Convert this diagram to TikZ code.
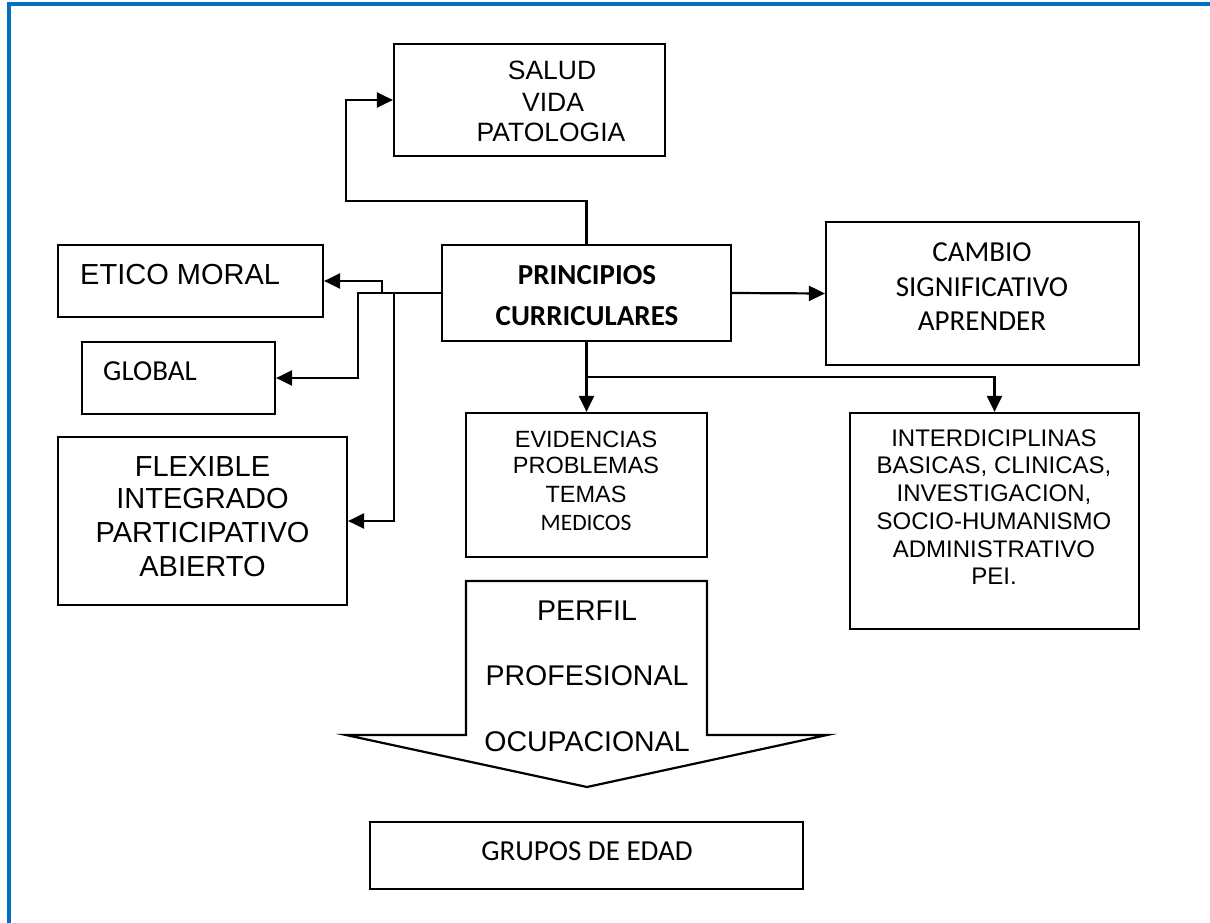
\documentclass[tikz,border=0pt]{standalone}
\usepackage{fontspec}
\setmainfont{Liberation Sans}
\newfontfamily\arialf{Liberation Sans}
\newfontfamily\calibf{Carlito}
\usetikzlibrary{arrows.meta}
\definecolor{frameblue}{RGB}{0,112,192}
\begin{document}
\begin{tikzpicture}[x=1pt,y=-1pt,
  box/.style={draw=black, line width=2.2pt, rectangle, inner sep=0pt},
  arr/.style={draw=black, line width=2.2pt, -{Triangle[length=16pt,width=15pt]}},
  conn/.style={draw=black, line width=2.2pt},
  lbl/.style={anchor=base, inner sep=0pt},
  lblw/.style={anchor=base west, inner sep=0pt}]
\useasboundingbox (0,0) rectangle (1210,923);
\fill[white] (0,0) rectangle (1210,923);
% frame
\draw[frameblue, line width=3.2pt] (9,923) -- (9,4) -- (1210,4);

% boxes
\node[box, minimum width=271pt, minimum height=112pt] (salud) at (529.5,100) {};
\node[box, minimum width=289pt, minimum height=96pt] (princ) at (586.5,293) {};
\node[box, minimum width=265pt, minimum height=72pt] (etico) at (190.5,281) {};
\node[box, minimum width=193pt, minimum height=72pt] (global) at (178.5,378) {};
\node[box, minimum width=289pt, minimum height=168pt] (flex) at (202.5,521) {};
\node[box, minimum width=313pt, minimum height=143pt] (cambio) at (982.5,293.5) {};
\node[box, minimum width=241pt, minimum height=144pt] (evid) at (586.5,485) {};
\node[box, minimum width=289pt, minimum height=216pt] (inter) at (994.5,521) {};
\node[box, minimum width=433pt, minimum height=67pt] (grupos) at (586.5,855.5) {};

% big arrow
\draw[conn, line join=miter] (466,581) -- (707,581) -- (707,735) -- (827,735) -- (587,787) -- (346,735) -- (466,735) -- cycle;

% texts
\node[lbl, font=\arialf\fontsize{26.5}{30}\selectfont] (t1) at (552,80) {SALUD};
\node[lbl, font=\arialf\fontsize{26.5}{30}\selectfont] (t2) at (553,112) {VIDA};
\node[lbl, font=\arialf\fontsize{26.5}{30}\selectfont] (t3) at (551,142) {PATOLOGIA};

\node[lbl, font=\calibf\bfseries\fontsize{29}{35}\selectfont] (t4) at (587,284) {PRINCIPIOS};
\node[lbl, font=\calibf\bfseries\fontsize{29}{35}\selectfont] (t5) at (587,325) {CURRICULARES};

\node[lblw, font=\arialf\fontsize{29}{33}\selectfont] (t6) at (80,284) {ETICO MORAL};
\node[lblw, font=\calibf\fontsize{29}{33}\selectfont] (t7) at (103,380) {GLOBAL};

\node[lbl, font=\arialf\fontsize{29}{33}\selectfont] (t8) at (202.5,476) {FLEXIBLE};
\node[lbl, font=\arialf\fontsize{29}{33}\selectfont] (t9) at (202.5,508) {INTEGRADO};
\node[lbl, font=\arialf\fontsize{29}{33}\selectfont] (t10) at (202.5,542) {PARTICIPATIVO};
\node[lbl, font=\arialf\fontsize{29}{33}\selectfont] (t11) at (202.5,576) {ABIERTO};

\node[lbl, font=\calibf\fontsize{29}{35}\selectfont] (t12) at (982,261) {CAMBIO};
\node[lbl, font=\calibf\fontsize{29}{35}\selectfont] (t13) at (982,296) {SIGNIFICATIVO};
\node[lbl, font=\calibf\fontsize{29}{35}\selectfont] (t14) at (982,330) {APRENDER};

\node[lbl, font=\arialf\fontsize{23.5}{27}\selectfont] (t15) at (586,447) {EVIDENCIAS};
\node[lbl, font=\arialf\fontsize{23.5}{27}\selectfont] (t16) at (586,473) {PROBLEMAS};
\node[lbl, font=\arialf\fontsize{23.5}{27}\selectfont] (t17) at (586,502) {TEMAS};
\node[lbl, font=\calibf\fontsize{23.5}{27}\selectfont] (t18) at (586,530) {MEDICOS};

\node[lbl, font=\arialf\fontsize{24}{28}\selectfont] (t19) at (994,446) {INTERDICIPLINAS};
\node[lbl, font=\arialf\fontsize{24}{28}\selectfont] (t20) at (994,473) {BASICAS, CLINICAS,};
\node[lbl, font=\arialf\fontsize{24}{28}\selectfont] (t21) at (994,501) {INVESTIGACION,};
\node[lbl, font=\arialf\fontsize{24}{28}\selectfont] (t22) at (994,529) {SOCIO-HUMANISMO};
\node[lbl, font=\arialf\fontsize{24}{28}\selectfont] (t23) at (994,557) {ADMINISTRATIVO};
\node[lbl, font=\arialf\fontsize{24}{28}\selectfont] (t24) at (994,584) {PEI.};

\node[lbl, font=\arialf\fontsize{28.5}{33}\selectfont] (t25) at (587,620) {PERFIL};
\node[lbl, font=\arialf\fontsize{28.5}{33}\selectfont] (t26) at (587,685) {PROFESIONAL};
\node[lbl, font=\arialf\fontsize{28.5}{33}\selectfont] (t27) at (587,751) {OCUPACIONAL};

\node[lbl, font=\calibf\fontsize{29}{35}\selectfont] (t28) at (587,860) {GRUPOS DE EDAD};

% connectors
\coordinate (s1) at (346,201);
\coordinate (g1) at (358,293);
\coordinate (j1) at (382,293);
\coordinate (j2) at (394,293);
\coordinate (j3) at (586.5,377);
\draw[arr] (princ.north) |- (s1) |- (salud.west);
\draw[arr] (princ.west) -- (g1) |- (global.east);
\draw[arr] (j1) |- (etico.east);
\draw[arr] (j2) |- (flex.east);
\draw[arr] (princ.east) -- (cambio.west);
\draw[arr] (princ.south) -- (evid.north);
\draw[arr] (j3) -| (inter.north);
\end{tikzpicture}
\end{document}
